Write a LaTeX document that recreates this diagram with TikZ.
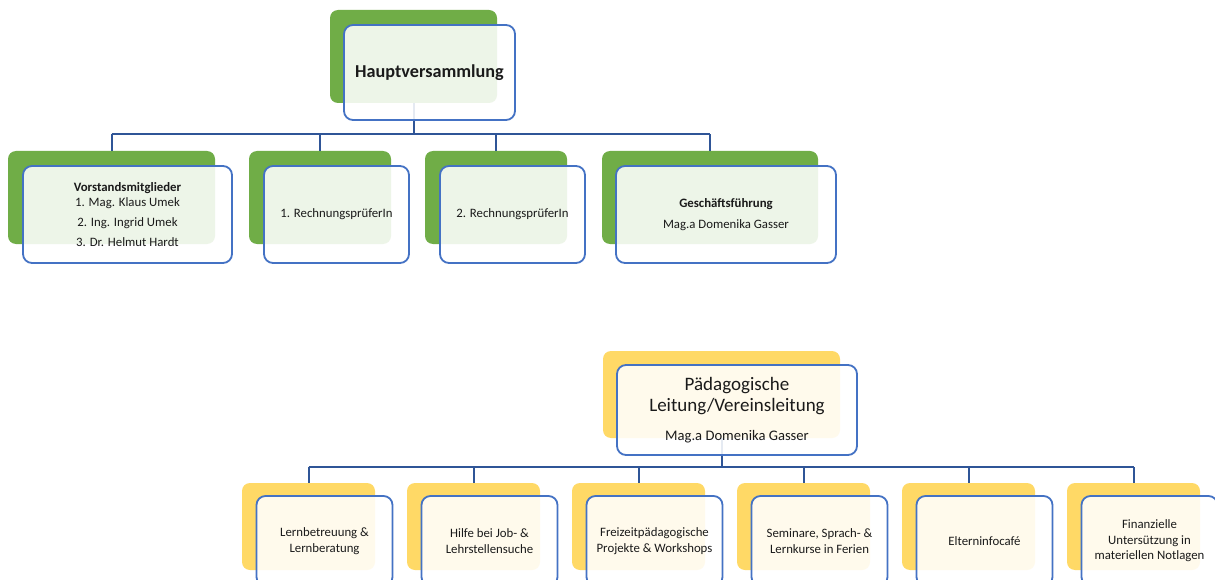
\documentclass[tikz,border=0pt]{standalone}
\usepackage{fontspec}
\setmainfont{Carlito}
\definecolor{ogreen}{HTML}{70AD47}
\definecolor{ogold}{HTML}{FFD966}
\definecolor{oblue}{HTML}{4472C4}
\definecolor{lineblue}{HTML}{2F5597}
\definecolor{txt}{HTML}{1A1A1A}
\newcommand{\smallfnt}{\fontsize{12.8}{15.5}\selectfont}
\newcommand{\bigfnt}{\fontsize{19}{21.5}\selectfont}
\newcommand{\midfnt}{\fontsize{14.6}{17}\selectfont}
\begin{document}
\begin{tikzpicture}[x=1pt,y=-1pt,
  backbox/.style={draw=none,fill=#1,rounded corners=8pt,inner sep=0pt},
  frontbox/.style={draw=oblue,line width=1.8pt,fill=white,fill opacity=0.88,text opacity=1,
    rounded corners=9pt,inner sep=0pt,align=center,text=txt,font=\smallfnt},
  conn/.style={draw=lineblue,line width=2pt}]
\useasboundingbox (0,0) rectangle (1215,580);
\clip (0,0) rectangle (1215,580);
\fill[white] (0,0) rectangle (1215,580);
% ---------- back boxes
\node[backbox=ogreen,minimum width=167pt,minimum height=93pt] (hvB) at (413.5,56.5) {};
\node[backbox=ogreen,minimum width=207pt,minimum height=93pt] (vsB) at (111.5,197.5) {};
\node[backbox=ogreen,minimum width=142pt,minimum height=93pt] (r1B) at (320,197.5) {};
\node[backbox=ogreen,minimum width=142pt,minimum height=93pt] (r2B) at (496,197.5) {};
\node[backbox=ogreen,minimum width=216pt,minimum height=93pt] (gfB) at (710,197.5) {};
\node[backbox=ogold,minimum width=237pt,minimum height=87pt] (plB) at (721.5,394.5) {};
\foreach \i/\n in {0/a,1/b,2/c,3/d,4/e,5/f}{
  \node[backbox=ogold,minimum width=133pt,minimum height=87pt] (\n B) at (308.5+165*\i,526.5) {};
}
% ---------- connectors
\coordinate (busA) at (0,134);
\coordinate (busB) at (0,467);
\draw[conn] (hvB.south) -- (hvB.south |- busA);
\draw[conn] (vsB.north |- busA) -- (gfB.north |- busA);
\foreach \n in {vsB,r1B,r2B,gfB}{
  \draw[conn] (\n.north) -- (\n.north |- busA);
}
\draw[conn] (plB.south) -- (plB.south |- busB);
\draw[conn] (aB.north |- busB) -- (fB.north |- busB);
\foreach \n in {aB,bB,cB,dB,eB,fB}{
  \draw[conn] (\n.north) -- (\n.north |- busB);
}
% ---------- front boxes
\node[frontbox,minimum width=171pt,minimum height=95pt,font=\fontsize{18.2}{22}\selectfont\bfseries] (hv) at (429.5,72.5) {Hauptversammlung};
\node[frontbox,minimum width=209pt,minimum height=97pt] (vs) at (127.5,214.5)
  {\textbf{Vorstandsmitglieder}\\1. Mag. Klaus Umek\\[4.5pt]2. Ing. Ingrid Umek\\[4.5pt]3. Dr. Helmut Hardt};
\node[frontbox,minimum width=145pt,minimum height=97pt] (r1) at (336.5,214.5) {1. RechnungsprüferIn};
\node[frontbox,minimum width=145pt,minimum height=97pt] (r2) at (512.5,214.5) {2. RechnungsprüferIn};
\node[frontbox,minimum width=220pt,minimum height=97pt] (gf) at (726,214.5)
  {\textbf{Geschäftsführung}\\[5.5pt]Mag.a Domenika Gasser};
\node[frontbox,minimum width=240pt,minimum height=90pt,font=\bigfnt] (pl) at (737,410)
  {Pädagogische\\Leitung/Vereinsleitung\\[7pt]\midfnt Mag.a Domenika Gasser};
\node[frontbox,minimum width=136pt,minimum height=90pt] (a) at (324.5,541) {Lernbetreuung \&\\Lernberatung};
\node[frontbox,minimum width=136pt,minimum height=90pt] (b) at (489.5,541) {Hilfe bei Job- \&\\Lehrstellensuche};
\node[frontbox,minimum width=136pt,minimum height=90pt] (c) at (654.5,541) {Freizeitpädagogische\\Projekte \& Workshops};
\node[frontbox,minimum width=136pt,minimum height=90pt] (d) at (819.5,541) {Seminare, Sprach- \&\\Lernkurse in Ferien};
\node[frontbox,minimum width=136pt,minimum height=90pt] (e) at (984.5,541) {Elterninfocafé};
\node[frontbox,minimum width=136pt,minimum height=90pt] (f) at (1149.5,541) {Finanzielle\\Untersützung in\\materiellen Notlagen};
\end{tikzpicture}
\end{document}
